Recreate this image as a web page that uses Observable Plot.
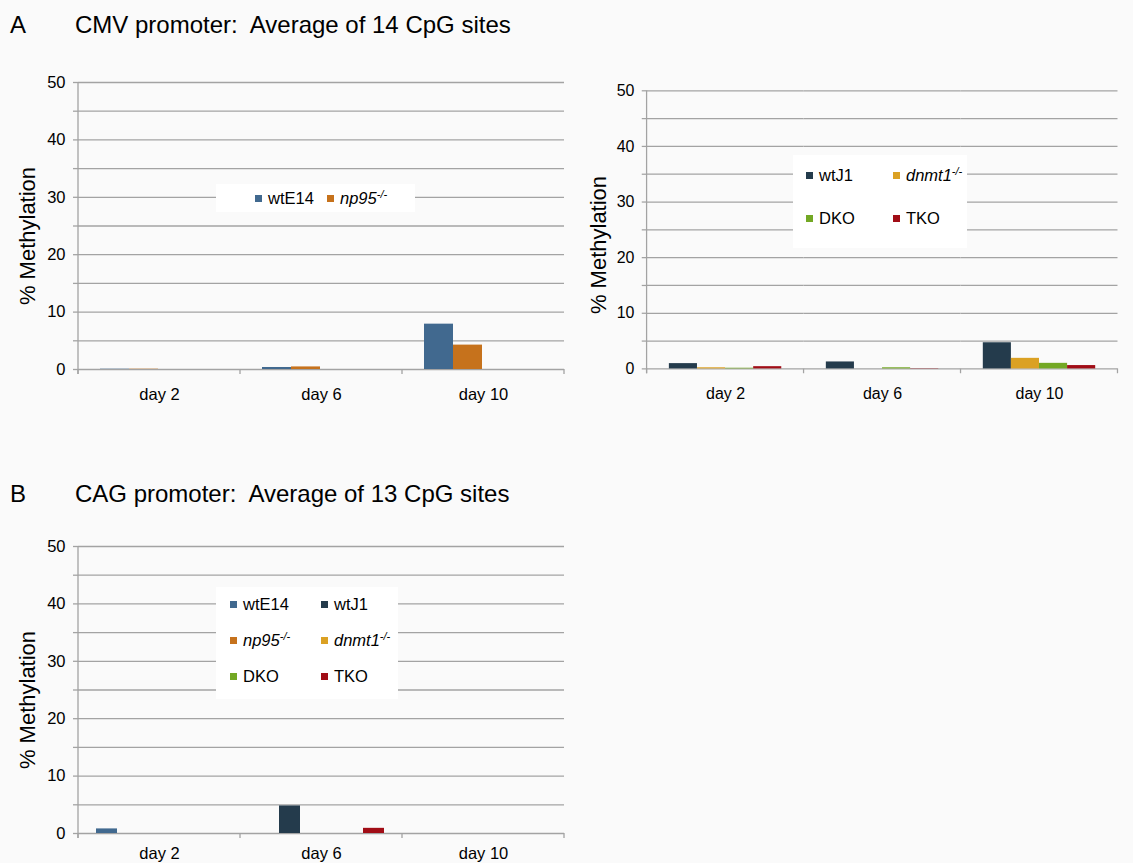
<!DOCTYPE html>
<html><head><meta charset="utf-8">
<script src="https://cdn.jsdelivr.net/npm/d3@7"></script>
<script src="https://cdn.jsdelivr.net/npm/@observablehq/plot@0.6"></script>
<style>
html,body{margin:0;padding:0;}
body{width:1133px;height:863px;overflow:hidden;background:#fafafa;position:relative;font-family:"Liberation Sans",Arial,sans-serif;color:#000;}
.panel{position:absolute;}
.letter,.title{position:absolute;font-size:24px;line-height:24px;white-space:pre;}
.ylabel{position:absolute;width:220px;height:26px;line-height:26px;text-align:center;font-size:22px;transform:rotate(-90deg);white-space:nowrap;}
.legend{position:absolute;background:#fff;}
.item{position:absolute;display:flex;align-items:center;font-size:16.5px;line-height:20px;height:20px;white-space:nowrap;}
.sw{width:7px;height:7px;margin-right:6px;flex:none;}
.item sup{font-size:11px;vertical-align:6px;line-height:0;}
</style></head><body>
<div class="letter" style="left:10px;top:13px">A</div>
<div class="title" style="left:75px;top:13px">CMV promoter:  Average of 14 CpG sites</div>
<div class="letter" style="left:10px;top:482px">B</div>
<div class="title" style="left:75px;top:482px">CAG promoter:  Average of 13 CpG sites</div>
<script>
// ---------- data ----------
const days = ["day 2", "day 6", "day 10"];

const cmvEsSeries = ["wtE14", "np95-/-"];
const cmvEsWtE14 = [0.05, 0.35, 7.9];
const cmvEsNp95 = [0.05, 0.45, 4.25];

const cmvJ1Series = ["wtJ1", "dnmt1-/-", "DKO", "TKO"];
const cmvJ1WtJ1 = [0.95, 1.25, 4.7];
const cmvJ1Dnmt1 = [0.2, 0.0, 1.9];
const cmvJ1Dko = [0.12, 0.2, 1.0];
const cmvJ1Tko = [0.4, 0.05, 0.6];

const cagSeries = ["wtE14", "wtJ1", "np95-/-", "dnmt1-/-", "DKO", "TKO"];
const cagWtE14 = [0.8, 0, 0];
const cagWtJ1 = [0, 4.8, 0];
const cagNp95 = [0, 0, 0];
const cagDnmt1 = [0, 0, 0];
const cagDko = [0, 0, 0];
const cagTko = [0, 0.9, 0];

const yGridTicks = [0, 5, 10, 15, 20, 25, 30, 35, 40, 45, 50];
const yLabelTicks = [0, 10, 20, 30, 40, 50];
const yLabel = "% Methylation";

// ---------- style ----------
const allSeries = ["wtE14", "np95-/-", "wtJ1", "dnmt1-/-", "DKO", "TKO"];
const allColors = ["#41698f", "#c6721c", "#243b4c", "#dba123", "#73a824", "#a10d16"];
const gridColor = "#a3a3a3";
const font = '"Liberation Sans", Arial, sans-serif';

function table(series, arrays) {
  const rows = [];
  series.forEach((s, i) => days.forEach((d, j) => rows.push({day: d, series: s, value: arrays[i][j]})));
  return rows;
}

function makeChart({data, series, paddingOuter, align, left, top, dayPadding}) {
  const plot = Plot.plot({
    width: 580, height: 355,
    marginLeft: 77, marginRight: 15, marginTop: 22, marginBottom: 46,
    style: {fontFamily: font, fontSize: "16px", background: "transparent", overflow: "visible", color: "#000"},
    fx: {domain: days, padding: 0, label: null},
    x: {domain: series, paddingInner: 0, paddingOuter, align, axis: null},
    y: {domain: [0, 50]},
    color: {domain: allSeries, range: allColors},
    marks: [
      Plot.gridY(yGridTicks, {stroke: gridColor, strokeOpacity: 1, strokeWidth: 1.3}),
      Plot.barY(data, {fx: "day", x: "series", y: "value", fill: "series"}),
      Plot.axisY(yGridTicks, {tickSize: 5, tickPadding: 8, stroke: gridColor, strokeWidth: 1.3, fill: "#000",
        tickFormat: d => yLabelTicks.includes(d) ? String(d) : "", fontSize: 16.5, label: null, facetAnchor: "left"}),
      Plot.axisFx({anchor: "bottom", tickSize: 0, tickPadding: dayPadding, fontSize: 16.5, label: null})
    ]
  });
  // y-axis line and category boundary ticks, placed with the plot's own scales
  const fx = plot.scale("fx"), y = plot.scale("y");
  const y0 = y.apply(0), yTop = y.apply(50);
  const edges = days.map(d => fx.apply(d)).concat([fx.apply(days[days.length - 1]) + fx.bandwidth]);
  const svg = d3.select(plot);
  const g = svg.append("g").attr("stroke", gridColor).attr("stroke-width", 1.3);
  g.append("line").attr("x1", edges[0]).attr("x2", edges[0]).attr("y1", yTop).attr("y2", y0 + 5);
  edges.forEach(x => g.append("line").attr("x1", x).attr("x2", x).attr("y1", y0).attr("y2", y0 + 5));
  const wrap = document.createElement("div");
  wrap.className = "panel";
  wrap.style.left = left + "px";
  wrap.style.top = top + "px";
  wrap.appendChild(plot);
  document.body.appendChild(wrap);
  // y label
  const lab = document.createElement("div");
  lab.className = "ylabel";
  lab.textContent = yLabel;
  const cx = left + 77 - 49, cy = top + (yTop + y0) / 2 + 10;
  lab.style.left = (cx - 110) + "px";
  lab.style.top = (cy - 13) + "px";
  document.body.appendChild(lab);
}

function legendLabel(name) {
  if (name.endsWith("-/-")) return `<i>${name.slice(0, -3)}<sup>-/-</sup></i>`;
  return name;
}

function makeLegend({series, left, top, width, height, cols, rows}) {
  const box = document.createElement("div");
  box.className = "legend";
  Object.assign(box.style, {left: left + "px", top: top + "px", width: width + "px", height: height + "px"});
  series.forEach((s, i) => {
    const it = document.createElement("div");
    it.className = "item";
    const c = i % cols.length, r = Math.floor(i / cols.length);
    it.style.left = cols[c] + "px";
    it.style.top = (rows[r] - 10) + "px";
    it.innerHTML = `<span class="sw" style="background:${allColors[allSeries.indexOf(s)]}"></span><span>${legendLabel(s)}</span>`;
    box.appendChild(it);
  });
  document.body.appendChild(box);
}

makeChart({data: table(cmvEsSeries, [cmvEsWtE14, cmvEsNp95]), series: cmvEsSeries, paddingOuter: 1.75, align: 3 / 14, left: 0, top: 60, dayPadding: 19});
makeChart({data: table(cmvJ1Series, [cmvJ1WtJ1, cmvJ1Dnmt1, cmvJ1Dko, cmvJ1Tko]), series: cmvJ1Series, paddingOuter: 0.75, align: 0.5, left: 571, top: 69, dayPadding: 19});
makeChart({data: table(cagSeries, [cagWtE14, cagWtJ1, cagNp95, cagDnmt1, cagDko, cagTko]), series: cagSeries, paddingOuter: 0.75, align: 0.5, left: 0, top: 524, dayPadding: 14});

makeLegend({series: cmvEsSeries, left: 216, top: 184, width: 199, height: 28, cols: [39, 111], rows: [14]});
makeLegend({series: cmvJ1Series, left: 793, top: 155, width: 174, height: 93, cols: [13, 100], rows: [20, 63]});
makeLegend({series: cagSeries, left: 216, top: 587, width: 182, height: 112, cols: [14, 105], rows: [17, 53, 89]});
</script>
</body></html>
